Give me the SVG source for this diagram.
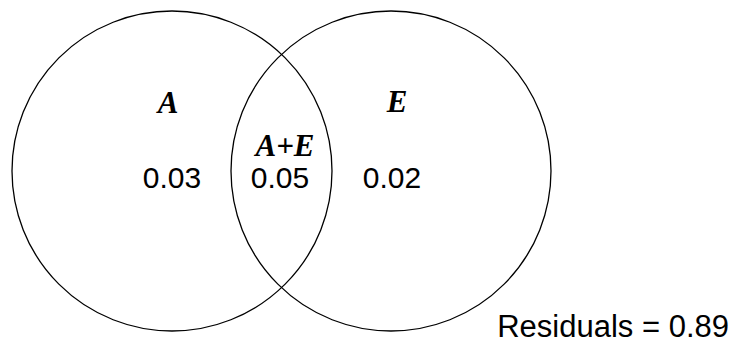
<svg xmlns="http://www.w3.org/2000/svg" width="731" height="343" viewBox="0 0 731 343">
<style>
.c{fill:none;stroke:#000;stroke-width:1.3}
.lab{font-family:"Liberation Serif","Times New Roman",serif;font-weight:bold;font-style:italic;font-size:31px;fill:#000;text-anchor:middle}
.num{font-family:"Liberation Sans",Arial,sans-serif;font-size:30px;fill:#000;text-anchor:middle}
</style>
<rect width="731" height="343" fill="#fff"/>
<g id="setA">
<circle class="c" cx="172" cy="171" r="160"/>
<text class="lab" x="168" y="113">A</text>
<text class="num" x="172" y="188">0.03</text>
</g>
<g id="setE">
<circle class="c" cx="391" cy="171" r="160"/>
<text class="lab" x="397" y="112">E</text>
<text class="num" x="392" y="188">0.02</text>
</g>
<g id="overlap">
<text class="lab" x="285" y="156">A+E</text>
<text class="num" x="280" y="188">0.05</text>
</g>
<g id="residuals">
<text class="num" x="729" y="337" style="text-anchor:end;font-size:31px">Residuals = 0.89</text>
</g>
</svg>
